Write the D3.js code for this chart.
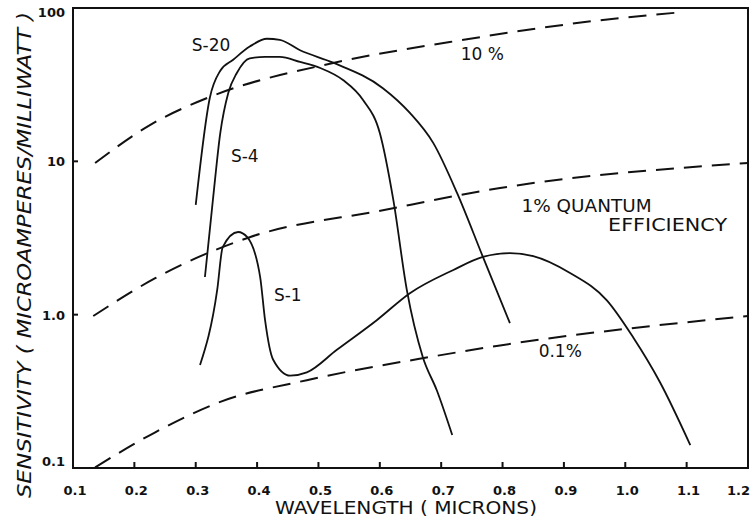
<!DOCTYPE html>
<html>
<head>
<meta charset="utf-8">
<script src="https://cdn.jsdelivr.net/npm/d3@7"></script>
<style>
  body { margin: 0; background: #fff; }
  svg { display: block; }
  text { font-family: "DejaVu Sans", sans-serif; fill: #111; }
</style>
</head>
<body>
<svg width="750" height="522"></svg>
<script>
// wavelength (microns), sensitivity (microamperes / milliwatt)
var s20 = [[0.300, 5.2], [0.323, 26], [0.340, 39], [0.361, 46], [0.388, 56], [0.416, 63],
  [0.437, 62], [0.470, 53], [0.524, 44], [0.605, 30], [0.649, 20.7], [0.687, 13.2],
  [0.726, 6.2], [0.768, 2.38], [0.812, 0.88]];

var s4 = [[0.315, 1.76], [0.328, 5.6], [0.340, 15.3], [0.353, 27.9], [0.367, 37.7],
  [0.388, 47], [0.413, 48], [0.437, 48], [0.470, 44.5], [0.503, 40.6], [0.540, 33.9],
  [0.573, 25], [0.600, 15.3], [0.622, 5.6], [0.644, 1.45], [0.670, 0.53], [0.693, 0.32],
  [0.718, 0.164]];

var s1 = [[0.307, 0.47], [0.335, 1.45], [0.344, 2.76], [0.369, 3.46], [0.384, 3.2],
  [0.405, 1.76], [0.413, 0.92], [0.426, 0.51], [0.454, 0.40], [0.481, 0.42], [0.530, 0.59],
  [0.595, 0.92], [0.649, 1.38], [0.719, 1.95], [0.768, 2.38], [0.812, 2.52], [0.850, 2.41],
  [0.910, 1.87], [0.970, 1.24], [1.013, 0.71], [1.057, 0.36], [1.106, 0.141]];

// quantum efficiency reference lines
var qe10 = [[0.136, 9.75], [0.226, 17.3], [0.323, 26.3], [0.524, 43.8], [0.714, 60],
  [0.991, 86], [1.094, 94]];
var qe1 = [[0.133, 0.98], [0.234, 1.73], [0.388, 3.2], [0.605, 4.8], [0.796, 6.7], [1.2, 9.75]];
var qe01 = [[0.136, 0.101], [0.234, 0.171], [0.340, 0.27], [0.481, 0.374], [0.682, 0.53],
  [0.796, 0.63], [1.2, 0.98]];

var xTicks = [0.1, 0.2, 0.3, 0.4, 0.5, 0.6, 0.7, 0.8, 0.9, 1.0, 1.1, 1.2];
var xTickLabels = ["0.1", "0.2", "0.3", "0.4", "0.5", "0.6", "0.7", "0.8", "0.9", "1.0", "1.1", "1.2"];
var yTicks = [0.1, 1, 10, 100];
var yTickLabels = ["0.1", "1.0", "10", "100"];

var labels = [
  {text: "S-20", x: 0.325, y: 57},
  {text: "S-4", x: 0.380, y: 10.8},
  {text: "S-1", x: 0.450, y: 1.34},
  {text: "10 %", x: 0.767, y: 50},
  {text: "0.1%", x: 0.894, y: 0.58}
];

var svg = d3.select("svg");

var x = d3.scaleLinear().domain([0.1, 1.2]).range([73, 748]);
var y = d3.scaleLog().domain([0.1, 100]).range([468, 8]);

var line = d3.line()
  .x(function(d) { return x(d[0]); })
  .y(function(d) { return y(d[1]); })
  .curve(d3.curveMonotoneX);

// frame
svg.append("rect")
  .attr("x", x(0.1)).attr("y", y(100))
  .attr("width", x(1.2) - x(0.1)).attr("height", y(0.1) - y(100))
  .attr("fill", "none").attr("stroke", "#111").attr("stroke-width", 2);

// ticks
svg.append("g").selectAll("line")
  .data(xTicks.slice(1, -1))
  .enter().append("line")
    .attr("x1", function(d) { return x(d); }).attr("x2", function(d) { return x(d); })
    .attr("y1", y(0.1)).attr("y2", y(0.1) - 6)
    .attr("stroke", "#111").attr("stroke-width", 2);

svg.append("g").selectAll("line")
  .data([1, 10])
  .enter().append("line")
    .attr("x1", x(0.1)).attr("x2", x(0.1) + 5)
    .attr("y1", function(d) { return y(d); }).attr("y2", function(d) { return y(d); })
    .attr("stroke", "#111").attr("stroke-width", 2);

// tick labels
svg.append("g").selectAll("text")
  .data(xTicks)
  .enter().append("text")
    .attr("x", function(d, i) { return i === xTicks.length - 1 ? 750 : x(d) + 2; })
    .attr("y", 495)
    .attr("text-anchor", function(d, i) { return i === xTicks.length - 1 ? "end" : "middle"; })
    .style("font-size", "13px")
    .style("font-weight", "bold")
    .text(function(d, i) { return xTickLabels[i]; });

svg.append("g").selectAll("text")
  .data(yTicks)
  .enter().append("text")
    .attr("x", 65)
    .attr("y", function(d, i) { return d === 100 ? y(d) + 9 : (d === 0.1 ? y(d) - 2 : y(d) + 5); })
    .attr("text-anchor", "end")
    .style("font-size", "13px")
    .style("font-weight", "bold")
    .text(function(d, i) { return yTickLabels[i]; });

// axis titles
svg.append("text")
  .attr("x", 275).attr("y", 514)
  .attr("textLength", 262).attr("lengthAdjust", "spacingAndGlyphs")
  .style("font-size", "17px")
  .style("font-family", "'DejaVu Sans Condensed', sans-serif")
  .text("WAVELENGTH ( MICRONS)");

svg.append("text")
  .attr("transform", "translate(31,498) rotate(-90)")
  .attr("textLength", 486).attr("lengthAdjust", "spacingAndGlyphs")
  .style("font-size", "19px")
  .style("font-style", "italic")
  .style("font-family", "'DejaVu Sans Condensed', sans-serif")
  .text("SENSITIVITY ( MICROAMPERES/MILLIWATT )");

// quantum efficiency lines
svg.append("g").selectAll("path")
  .data([qe10, qe1, qe01])
  .enter().append("path")
    .attr("d", line)
    .attr("fill", "none")
    .attr("stroke", "#111")
    .attr("stroke-width", 2)
    .attr("stroke-dasharray", "18,10");

// photocathode response curves
svg.append("g").selectAll("path")
  .data([s20, s4, s1])
  .enter().append("path")
    .attr("d", line)
    .attr("fill", "none")
    .attr("stroke", "#111")
    .attr("stroke-width", 1.8);

// curve labels
svg.append("g").selectAll("text")
  .data(labels)
  .enter().append("text")
    .attr("x", function(d) { return x(d.x); })
    .attr("y", function(d) { return y(d.y) + 6; })
    .attr("text-anchor", "middle")
    .style("font-size", "17px")
    .text(function(d) { return d.text; });

svg.append("text")
  .attr("x", x(0.831)).attr("y", y(5.2) + 7)
  .attr("textLength", 130).attr("lengthAdjust", "spacingAndGlyphs")
  .style("font-size", "17px")
  .text("1% QUANTUM");

svg.append("text")
  .attr("x", x(0.972)).attr("y", y(3.9) + 7)
  .attr("textLength", 119).attr("lengthAdjust", "spacingAndGlyphs")
  .style("font-size", "17px")
  .text("EFFICIENCY");
</script>
</body>
</html>
